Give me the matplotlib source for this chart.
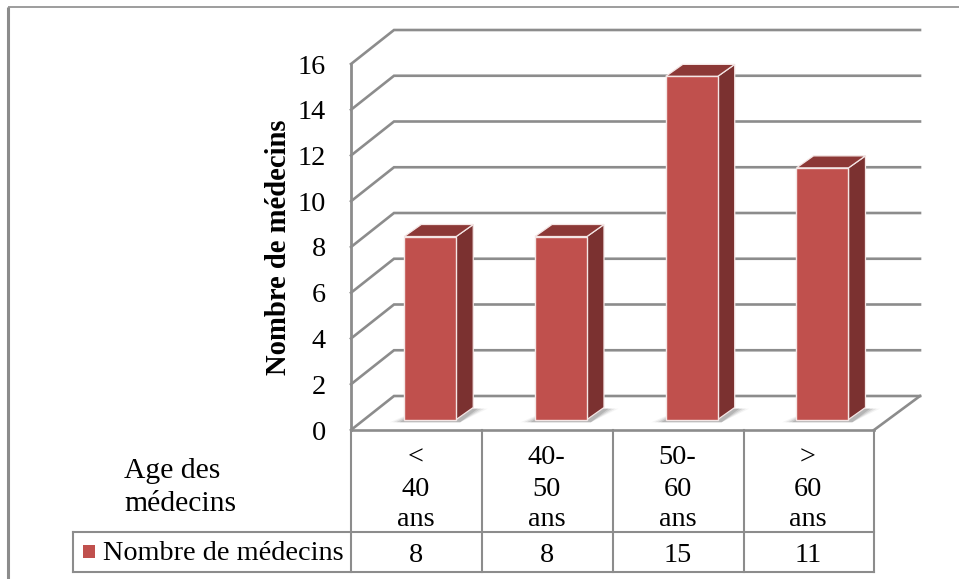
import matplotlib
matplotlib.use("Agg")
import matplotlib.pyplot as plt
from matplotlib.patches import Polygon

# data
categories = ["<\n40\nans", "40-\n50\nans", "50-\n60\nans", ">\n60\nans"]
values = [8, 8, 15, 11]
y_ticks = [0, 2, 4, 6, 8, 10, 12, 14, 16]
series_name = "Nombre de médecins"
x_title = "Age des\nmédecins"
y_title = "Nombre de médecins"

W, H = 959, 579
plt.rcParams["font.family"] = ["Liberation Serif", "DejaVu Serif"]

GRID = "#8c8c8c"
FRONT = "#c0504d"
TOP = "#8c3836"
SIDE = "#7b3130"
TEXT_SIZE = 20.3

fig = plt.figure(figsize=(W / 100, H / 100), dpi=100)

# full figure layer in pixels for the outer frame and the table
page = fig.add_axes([0, 0, 1, 1])
page.set_xlim(0, W)
page.set_ylim(H, 0)
page.axis("off")

# plot layer: x in categories, y in chart units
ax = fig.add_axes([351 / W, 1 - 430 / H, 523 / W, 366 / H])
ax.set_xlim(0, len(categories))
ax.set_ylim(0, y_ticks[-1])
ax.axis("off")

# depth of the 3d box and of the bars, in data units
box_dx, box_dy = 43 / 130.75, 34 / 22.875
box_end = 46 / 130.75
bar_dx, bar_dy = 17 / 130.75, 12 / 22.875
bar_w = 52 / 130.75
bar_off = 0.106
base = 10.5 / 22.875

# walls and gridlines
n = len(categories)
for t in y_ticks:
    ax.plot([0, box_dx, n + box_end], [t, t + box_dy, t + box_dy],
            color=GRID, lw=1.9, clip_on=False, zorder=1, solid_joinstyle="miter")
ax.plot([0, 0], [0, y_ticks[-1]], color=GRID, lw=2.0, clip_on=False, zorder=1)
ax.plot([n, n + box_end], [0, box_dy], color=GRID, lw=1.9, clip_on=False, zorder=1)

for i, v in enumerate(values):
    x0 = i + 0.5 + bar_off - bar_w / 2
    x1 = x0 + bar_w
    # soft shadow on the floor
    for grow, alpha in [(0.11, 0.08), (0.085, 0.13), (0.06, 0.2), (0.035, 0.28)]:
        ax.add_patch(Polygon(
            [(x0 - grow, base - 0.12), (x1 + 0.03, base - 0.12),
             (x1 + bar_dx + grow, base + bar_dy - 0.05), (x0 + bar_dx, base + bar_dy - 0.05)],
            closed=True, fc="#777777", ec="none", alpha=alpha, clip_on=False, zorder=2))
    top = base + v
    ax.add_patch(Polygon([(x1, base), (x1 + bar_dx, base + bar_dy),
                          (x1 + bar_dx, top + bar_dy), (x1, top)],
                         closed=True, fc=SIDE, ec="#f4e6e5", lw=0.9, clip_on=False, zorder=3))
    ax.add_patch(Polygon([(x0, top), (x1, top), (x1 + bar_dx, top + bar_dy), (x0 + bar_dx, top + bar_dy)],
                         closed=True, fc=TOP, ec="#f4e6e5", lw=0.9, clip_on=False, zorder=3))
    ax.bar(x0, v, width=bar_w, bottom=base, align="edge", color=FRONT,
           edgecolor="#f4e6e5", linewidth=1.0, clip_on=False, zorder=4)

# y tick labels and title
for t in y_ticks:
    ax.annotate(str(t), (0, t), xytext=(-25, -3), textcoords="offset pixels",
                ha="right", va="center", fontsize=TEXT_SIZE, color="black", annotation_clip=False)
page.text(278, 247, y_title, rotation=90, ha="center", va="center",
          fontsize=20.6, fontweight="bold", color="black")

# outer frame
page.plot([8, 8], [H, 7], color=GRID, lw=2.2, clip_on=False, solid_capstyle="butt")
page.plot([8, W], [7, 7], color=GRID, lw=1.2, clip_on=False, solid_capstyle="butt")

# data table
cells = [351, 482, 613, 744, 874]
tab_top, tab_mid, tab_bot = 430, 532, 572
for x in cells:
    page.plot([x, x], [tab_top, tab_bot], color=GRID, lw=1.5, clip_on=False)
page.plot([351, 874], [tab_top, tab_top], color=GRID, lw=1.9, clip_on=False)
page.plot([73, 874], [tab_mid, tab_mid], color=GRID, lw=1.5, clip_on=False)
page.plot([73, 874], [tab_bot, tab_bot], color=GRID, lw=1.5, clip_on=False)
page.plot([73, 73], [tab_mid, tab_bot], color=GRID, lw=1.5, clip_on=False)

for i, (c, v) in enumerate(zip(categories, values)):
    cx = (cells[i] + cells[i + 1]) / 2 - 1
    for j, part in enumerate(c.split("\n")):
        page.text(cx, 458 + j * 31, part, ha="center", va="center", fontsize=TEXT_SIZE, color="black")
    page.text(cx, 555, str(v), ha="center", va="center", fontsize=TEXT_SIZE, color="black")

for j, part in enumerate(x_title.split("\n")):
    page.text(124, 471 + j * 33, part, ha="left", va="center", fontsize=TEXT_SIZE + 1, color="black")

page.add_patch(Polygon([(83, 545), (95, 545), (95, 558), (83, 558)], closed=True, fc=FRONT, ec="none"))
page.text(103, 554, series_name, ha="left", va="center", fontsize=TEXT_SIZE, color="black")

fig.savefig("out.png", dpi=100)
